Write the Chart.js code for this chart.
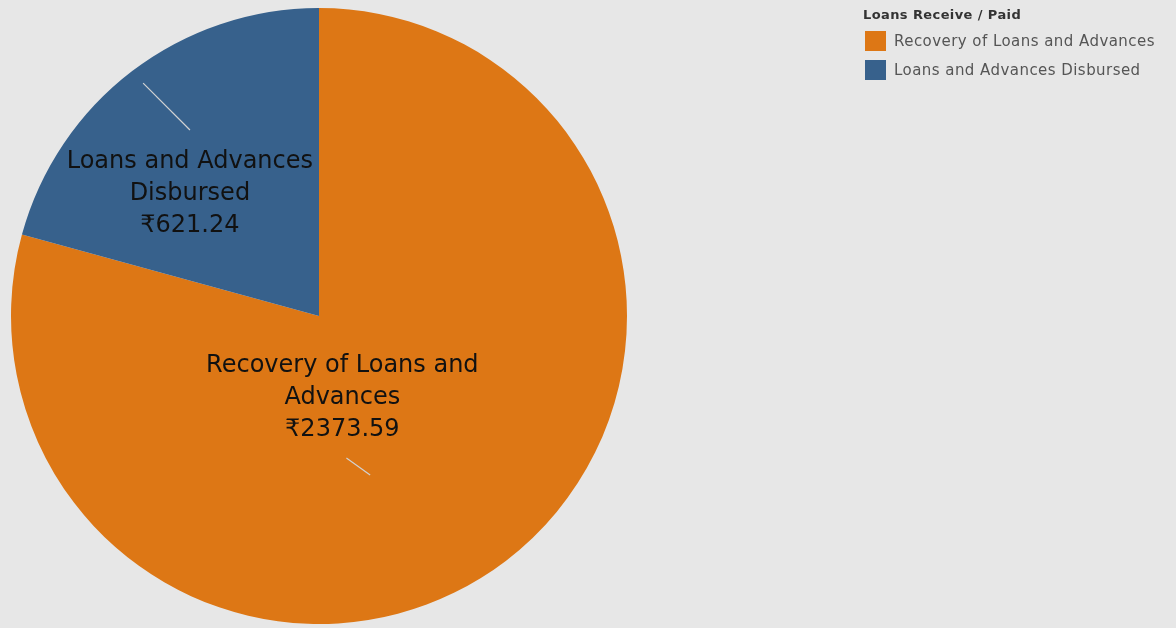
<!DOCTYPE html>
<html>
<head>
<meta charset="utf-8">
<script src="https://cdn.jsdelivr.net/npm/chart.js@4"></script>
<style>
  html, body { margin: 0; padding: 0; background: #e7e7e7; }
  #wrap { position: relative; width: 1176px; height: 628px; }
  #legend { position: absolute; left: 863px; top: 7px; font-family: "DejaVu Sans", sans-serif; color: #333; }
  #legend .title { font-size: 13px; font-weight: 600; letter-spacing: 0.4px; margin-bottom: 4px; color: #333; }
  #legend .item { display: flex; align-items: center; height: 29px; font-size: 15px; letter-spacing: 0.45px; color: #555; }
  #legend .sw { width: 21px; height: 20px; margin: 0 8px 0 2px; }
</style>
</head>
<body>
<div id="wrap">
  <canvas id="pie" width="1176" height="628"></canvas>
  <div id="legend"></div>
</div>
<script>
// data
const legendTitle = 'Loans Receive / Paid';
const categories = ['Recovery of Loans and Advances', 'Loans and Advances Disbursed'];
const values = [2373.59, 621.24];
const colors = ['#dd7715', '#37618c'];
// label text split like the original
const labelLines = [
  ['Recovery of Loans and', 'Advances'],
  ['Loans and Advances', 'Disbursed']
];

// label placement: angle from top (deg), distance as fraction of radius
const labelPos = [
  { ang: 164, r: 0.275, lead: [[0.089, 0.461], [0.166, 0.516]] },
  { ang: -46.6, r: 0.577, lead: [[-0.571, -0.756], [-0.419, -0.604]] }
];

const legend = document.getElementById('legend');
legend.innerHTML = '<div class="title">' + legendTitle + '</div>' +
  categories.map((c, i) => '<div class="item"><span class="sw" style="background:' + colors[i] + '"></span>' + c + '</div>').join('');

const sliceLabels = {
  id: 'sliceLabels',
  afterDatasetsDraw(chart) {
    const ctx = chart.ctx;
    const arcs = chart.getDatasetMeta(0).data;
    arcs.forEach((arc, i) => {
      const p = labelPos[i];
      const R = arc.outerRadius;
      // leader line
      ctx.save();
      ctx.strokeStyle = '#d2d2d2';
      ctx.lineWidth = 1.2;
      ctx.beginPath();
      ctx.moveTo(arc.x + p.lead[0][0] * R, arc.y + p.lead[0][1] * R);
      ctx.lineTo(arc.x + p.lead[1][0] * R, arc.y + p.lead[1][1] * R);
      ctx.stroke();
      // text block
      const a = p.ang * Math.PI / 180;
      const cx = arc.x + Math.sin(a) * p.r * R;
      const cy = arc.y - Math.cos(a) * p.r * R;
      const lines = labelLines[i].concat(['₹' + values[i].toFixed(2)]);
      const lh = 32;
      ctx.fillStyle = '#111';
      ctx.font = '24px "DejaVu Sans", sans-serif';
      ctx.textAlign = 'center';
      ctx.textBaseline = 'middle';
      lines.forEach((t, k) => {
        ctx.fillText(t, cx, cy + (k - (lines.length - 1) / 2) * lh);
      });
      ctx.restore();
    });
  }
};

new Chart(document.getElementById('pie'), {
  type: 'pie',
  data: {
    labels: categories,
    datasets: [{
      data: values,
      backgroundColor: colors,
      borderWidth: 0
    }]
  },
  options: {
    responsive: false,
    animation: false,
    layout: { padding: { left: 11, right: 549, top: 8, bottom: 4 } },
    plugins: {
      legend: { display: false },
      tooltip: { enabled: false }
    }
  },
  plugins: [sliceLabels]
});
</script>
</body>
</html>
